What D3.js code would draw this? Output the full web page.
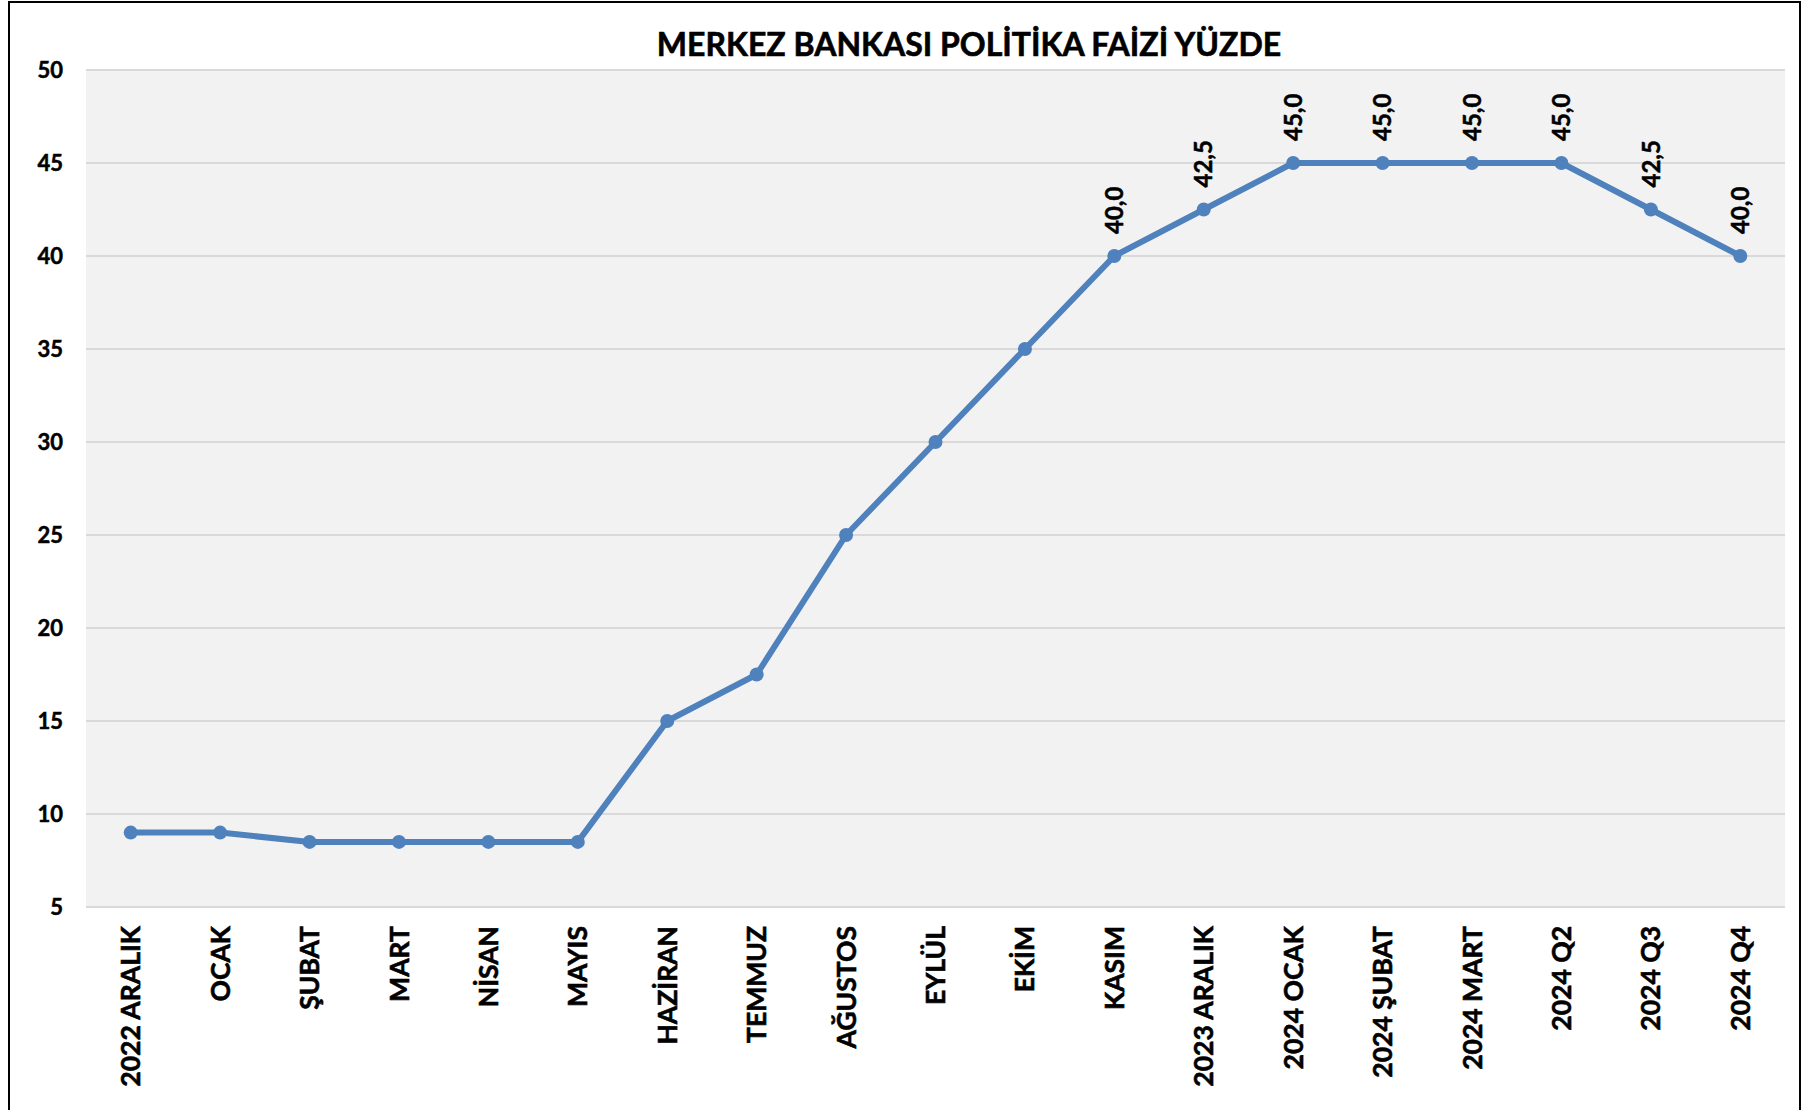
<!DOCTYPE html>
<html>
<head>
<meta charset="utf-8">
<script src="https://cdn.jsdelivr.net/npm/d3@7"></script>
<style>
  html, body { margin: 0; padding: 0; background: #fff; }
  svg { display: block; }
</style>
</head>
<body>
<svg id="chart" width="1812" height="1110"></svg>
<script>
const categories = ["2022 ARALIK","OCAK","ŞUBAT","MART","NİSAN","MAYIS","HAZİRAN","TEMMUZ","AĞUSTOS","EYLÜL","EKİM","KASIM","2023 ARALIK","2024 OCAK","2024 ŞUBAT","2024 MART","2024 Q2","2024 Q3","2024 Q4"];
const rates = [9, 9, 8.5, 8.5, 8.5, 8.5, 15, 17.5, 25, 30, 35, 40, 42.5, 45, 45, 45, 45, 42.5, 40];
const labelledFrom = 11; // data labels shown from KASIM onward
const yTicks = [5, 10, 15, 20, 25, 30, 35, 40, 45, 50];
const title = "MERKEZ BANKASI POLİTİKA FAİZİ YÜZDE";

const FONT = "Lato, Carlito, 'Open Sans', sans-serif";
const svg = d3.select("#chart");
const plot = { left: 86, right: 1785, top: 70, bottom: 907 };

// outer frame
svg.append("rect").attr("x", 9).attr("y", 2).attr("width", 1791).attr("height", 1130)
  .attr("fill", "#fff").attr("stroke", "#000").attr("stroke-width", 2);

// plot background
svg.append("rect").attr("x", plot.left).attr("y", plot.top)
  .attr("width", plot.right - plot.left).attr("height", plot.bottom - plot.top)
  .attr("fill", "#f2f2f2");

const x = d3.scaleBand().domain(categories).range([plot.left, plot.right]);
const y = d3.scaleLinear().domain([5, 50]).range([plot.bottom, plot.top]);

// gridlines
svg.append("g").selectAll("line").data(yTicks).join("line")
  .attr("x1", plot.left).attr("x2", plot.right)
  .attr("y1", d => y(d)).attr("y2", d => y(d))
  .attr("stroke", "#d9d9d9").attr("stroke-width", 2);

// y axis
const yAxis = svg.append("g").attr("transform", `translate(${plot.left},0)`)
  .call(d3.axisLeft(y).tickValues(yTicks).tickSize(0).tickPadding(23));
yAxis.select(".domain").remove();
yAxis.selectAll("text").attr("font-family", FONT).attr("font-weight", "bold")
  .attr("font-size", 22).attr("fill", "#000")
  .attr("stroke", "#000").attr("stroke-width", 0.5);

// x axis
const xAxis = svg.append("g").attr("transform", `translate(0,${plot.bottom})`)
  .call(d3.axisBottom(x).tickSize(0));
xAxis.select(".domain").remove();
xAxis.selectAll("text")
  .attr("font-family", FONT).attr("font-weight", "bold").attr("font-size", 26.5)
  .attr("fill", "#000").attr("stroke", "#000").attr("stroke-width", 0.6)
  .attr("text-anchor", "end")
  .attr("transform", "rotate(-90)")
  .attr("x", -19).attr("y", 0).attr("dy", "0.36em");

// line
const cx = d => x(d) + x.bandwidth() / 2;
const line = d3.line().x((d, i) => cx(categories[i])).y(d => y(d));
svg.append("path").datum(rates).attr("d", line)
  .attr("fill", "none").attr("stroke", "#4f81bd").attr("stroke-width", 6)
  .attr("stroke-linejoin", "round");

svg.append("g").selectAll("circle").data(rates).join("circle")
  .attr("cx", (d, i) => cx(categories[i])).attr("cy", d => y(d))
  .attr("r", 7).attr("fill", "#4f81bd");

// data labels
const fmt = d => d.toFixed(1).replace(".", ",");
svg.append("g").selectAll("text")
  .data(rates.map((v, i) => ({ v, i })).filter(d => d.i >= labelledFrom))
  .join("text")
  .attr("transform", d => `translate(${cx(categories[d.i])},${y(d.v) - 22}) rotate(-90)`)
  .attr("dy", "0.36em")
  .attr("font-family", FONT).attr("font-weight", "bold").attr("font-size", 24)
  .attr("fill", "#000").attr("stroke", "#000").attr("stroke-width", 0.5)
  .text(d => fmt(d.v));

// title
svg.append("text").attr("x", 969).attr("y", 56).attr("text-anchor", "middle")
  .attr("font-family", FONT).attr("font-weight", "bold").attr("font-size", 32)
  .attr("fill", "#000").attr("stroke", "#000").attr("stroke-width", 0.6)
  .text(title);
</script>
</body>
</html>
